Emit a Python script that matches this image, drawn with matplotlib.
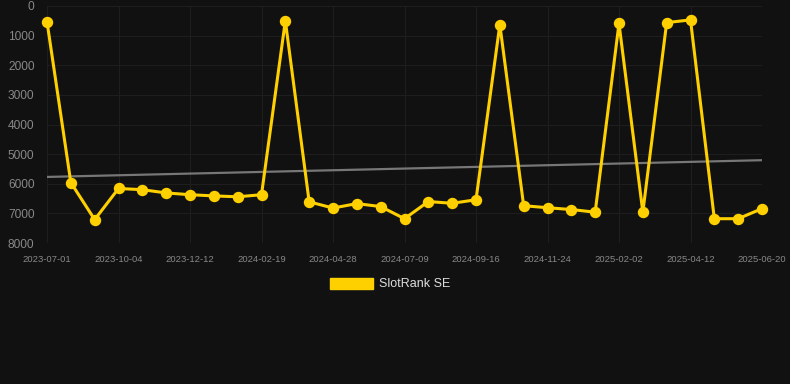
import numpy as np
import matplotlib
matplotlib.use("Agg")
import matplotlib.pyplot as plt
from matplotlib.patches import Patch

# SlotRank SE rank over time (lower number = better rank, axis inverted)
tick_labels = ["2023-07-01", "2023-10-04", "2023-12-12", "2024-02-19", "2024-04-28",
               "2024-07-09", "2024-09-16", "2024-11-24", "2025-02-02", "2025-04-12",
               "2025-06-20"]
rank = [530, 5960, 7210, 6160, 6200, 6310, 6370, 6410, 6440, 6370,
        500, 6610, 6820, 6670, 6770, 7180, 6600, 6660, 6540, 630,
        6740, 6810, 6870, 6960, 590, 6960, 560, 470, 7180, 7180, 6840]
trend_ends = [5770, 5205]

bg = "#111111"
gold = "#FFD000"

x = np.arange(len(rank))

plt.rcParams['font.family'] = ['Liberation Sans', 'DejaVu Sans']
fig = plt.figure(figsize=(7.9, 3.84), dpi=100, facecolor=bg)
ax = fig.add_axes([47 / 790, 1 - 243 / 384, (762 - 47) / 790, (243 - 6) / 384])
ax.set_facecolor(bg)

ax.plot([x[0], x[-1]], trend_ends, color="#777777", lw=1.6, zorder=2)
ax.plot(x, rank, color=gold, lw=2.2, marker="o", ms=7.2, clip_on=False, zorder=3)

ax.set_xlim(0, len(rank) - 1)
ax.set_ylim(8000, 0)
ax.set_yticks(range(0, 8001, 1000))
ax.set_xticks(x[::3])
ax.set_xticklabels(tick_labels)

ax.grid(True, color="#1e1e1e", lw=0.8)
for s in ax.spines.values():
    s.set_visible(False)
ax.tick_params(axis="y", colors="#888888", labelsize=8.6, length=0, pad=9)
ax.tick_params(axis="x", colors="#888888", labelsize=6.8, length=0, pad=9)

fig.legend(handles=[Patch(facecolor=gold, edgecolor=gold, label="SlotRank SE")],
           loc="center", bbox_to_anchor=(390 / 790, 1 - 284 / 384), frameon=False,
           fontsize=9, labelcolor="#dddddd", handlelength=3.4, handleheight=1.0,
           handletextpad=0.5)

fig.savefig("out.png", dpi=100, facecolor=bg)
